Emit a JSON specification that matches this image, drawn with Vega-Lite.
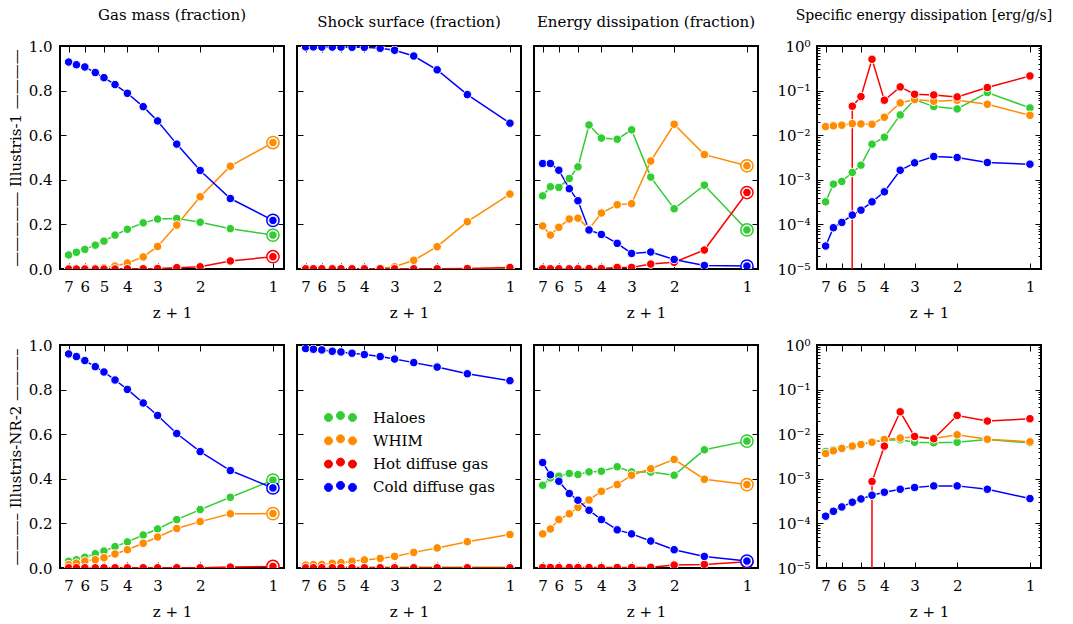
{
"$schema": "https://vega.github.io/schema/vega-lite/v6.json",
"padding": {"left": 7, "top": 7, "right": 0, "bottom": 0},
"config": {
 "font": "DejaVu Serif",
 "view": {"stroke": "black", "strokeWidth": 2},
 "axis": {"domain": false, "grid": false, "tickSize": -6, "tickColor": "black", "tickWidth": 1, "labelFont": "DejaVu Serif", "labelFontSize": 15, "labelColor": "black", "titleFont": "DejaVu Serif", "titleFontSize": 15, "titleFontWeight": "normal", "titleColor": "black", "labelFlush": false, "labelOverlap": false},
 "title": {"font": "DejaVu Serif", "fontSize": 15, "fontWeight": "normal", "color": "black", "offset": 16, "anchor": "middle", "frame": "group"}
},
"datasets": {
 "r1c1": [
  {"z":7,"c":"Haloes","v":0.063},{"z":6.5,"c":"Haloes","v":0.075},{"z":6,"c":"Haloes","v":0.088},{"z":5.43,"c":"Haloes","v":0.107},{"z":5,"c":"Haloes","v":0.125},{"z":4.5,"c":"Haloes","v":0.152},{"z":4,"c":"Haloes","v":0.178},{"z":3.44,"c":"Haloes","v":0.207},{"z":3,"c":"Haloes","v":0.224},{"z":2.5,"c":"Haloes","v":0.227},{"z":2,"c":"Haloes","v":0.210},{"z":1.5,"c":"Haloes","v":0.181},{"z":1,"c":"Haloes","v":0.152},
  {"z":7,"c":"WHIM","v":0.0},{"z":6.5,"c":"WHIM","v":0.0},{"z":6,"c":"WHIM","v":0.001},{"z":5.43,"c":"WHIM","v":0.003},{"z":5,"c":"WHIM","v":0.006},{"z":4.5,"c":"WHIM","v":0.013},{"z":4,"c":"WHIM","v":0.027},{"z":3.44,"c":"WHIM","v":0.054},{"z":3,"c":"WHIM","v":0.101},{"z":2.5,"c":"WHIM","v":0.197},{"z":2,"c":"WHIM","v":0.324},{"z":1.5,"c":"WHIM","v":0.461},{"z":1,"c":"WHIM","v":0.567},
  {"z":7,"c":"Hot diffuse gas","v":0.0},{"z":6.5,"c":"Hot diffuse gas","v":0.0},{"z":6,"c":"Hot diffuse gas","v":0.0},{"z":5.43,"c":"Hot diffuse gas","v":0.0},{"z":5,"c":"Hot diffuse gas","v":0.0},{"z":4.5,"c":"Hot diffuse gas","v":0.0},{"z":4,"c":"Hot diffuse gas","v":0.001},{"z":3.44,"c":"Hot diffuse gas","v":0.001},{"z":3,"c":"Hot diffuse gas","v":0.002},{"z":2.5,"c":"Hot diffuse gas","v":0.006},{"z":2,"c":"Hot diffuse gas","v":0.010},{"z":1.5,"c":"Hot diffuse gas","v":0.036},{"z":1,"c":"Hot diffuse gas","v":0.055},
  {"z":7,"c":"Cold diffuse gas","v":0.928},{"z":6.5,"c":"Cold diffuse gas","v":0.916},{"z":6,"c":"Cold diffuse gas","v":0.906},{"z":5.43,"c":"Cold diffuse gas","v":0.881},{"z":5,"c":"Cold diffuse gas","v":0.858},{"z":4.5,"c":"Cold diffuse gas","v":0.827},{"z":4,"c":"Cold diffuse gas","v":0.788},{"z":3.44,"c":"Cold diffuse gas","v":0.728},{"z":3,"c":"Cold diffuse gas","v":0.664},{"z":2.5,"c":"Cold diffuse gas","v":0.560},{"z":2,"c":"Cold diffuse gas","v":0.442},{"z":1.5,"c":"Cold diffuse gas","v":0.316},{"z":1,"c":"Cold diffuse gas","v":0.218}
 ],
 "r1c2": [
  {"z":7,"c":"Haloes","v":0.001},{"z":6.5,"c":"Haloes","v":0.001},{"z":6,"c":"Haloes","v":0.001},{"z":5.43,"c":"Haloes","v":0.001},{"z":5,"c":"Haloes","v":0.001},{"z":4.5,"c":"Haloes","v":0.001},{"z":4,"c":"Haloes","v":0.001},{"z":3.44,"c":"Haloes","v":0.001},{"z":3,"c":"Haloes","v":0.001},{"z":2.5,"c":"Haloes","v":0.001},{"z":2,"c":"Haloes","v":0.001},{"z":1.5,"c":"Haloes","v":0.001},{"z":1,"c":"Haloes","v":0.001},
  {"z":7,"c":"WHIM","v":0.0},{"z":6.5,"c":"WHIM","v":0.0},{"z":6,"c":"WHIM","v":0.0},{"z":5.43,"c":"WHIM","v":0.0},{"z":5,"c":"WHIM","v":0.0},{"z":4.5,"c":"WHIM","v":0.0},{"z":4,"c":"WHIM","v":0.0},{"z":3.44,"c":"WHIM","v":0.002},{"z":3,"c":"WHIM","v":0.010},{"z":2.5,"c":"WHIM","v":0.039},{"z":2,"c":"WHIM","v":0.100},{"z":1.5,"c":"WHIM","v":0.212},{"z":1,"c":"WHIM","v":0.336},
  {"z":7,"c":"Hot diffuse gas","v":0.001},{"z":6.5,"c":"Hot diffuse gas","v":0.001},{"z":6,"c":"Hot diffuse gas","v":0.001},{"z":5.43,"c":"Hot diffuse gas","v":0.001},{"z":5,"c":"Hot diffuse gas","v":0.001},{"z":4.5,"c":"Hot diffuse gas","v":0.001},{"z":4,"c":"Hot diffuse gas","v":0.001},{"z":3.44,"c":"Hot diffuse gas","v":0.001},{"z":3,"c":"Hot diffuse gas","v":0.001},{"z":2.5,"c":"Hot diffuse gas","v":0.001},{"z":2,"c":"Hot diffuse gas","v":0.001},{"z":1.5,"c":"Hot diffuse gas","v":0.002},{"z":1,"c":"Hot diffuse gas","v":0.007},
  {"z":7,"c":"Cold diffuse gas","v":0.996},{"z":6.5,"c":"Cold diffuse gas","v":0.996},{"z":6,"c":"Cold diffuse gas","v":0.995},{"z":5.43,"c":"Cold diffuse gas","v":0.995},{"z":5,"c":"Cold diffuse gas","v":0.995},{"z":4.5,"c":"Cold diffuse gas","v":0.994},{"z":4,"c":"Cold diffuse gas","v":0.994},{"z":3.44,"c":"Cold diffuse gas","v":0.990},{"z":3,"c":"Cold diffuse gas","v":0.981},{"z":2.5,"c":"Cold diffuse gas","v":0.955},{"z":2,"c":"Cold diffuse gas","v":0.893},{"z":1.5,"c":"Cold diffuse gas","v":0.782},{"z":1,"c":"Cold diffuse gas","v":0.654}
 ],
 "r1c3": [
  {"z":7,"c":"Haloes","v":0.328},{"z":6.5,"c":"Haloes","v":0.369},{"z":6,"c":"Haloes","v":0.366},{"z":5.43,"c":"Haloes","v":0.406},{"z":5,"c":"Haloes","v":0.458},{"z":4.5,"c":"Haloes","v":0.646},{"z":4,"c":"Haloes","v":0.587},{"z":3.44,"c":"Haloes","v":0.582},{"z":3,"c":"Haloes","v":0.624},{"z":2.5,"c":"Haloes","v":0.412},{"z":2,"c":"Haloes","v":0.270},{"z":1.5,"c":"Haloes","v":0.376},{"z":1,"c":"Haloes","v":0.175},
  {"z":7,"c":"WHIM","v":0.193},{"z":6.5,"c":"WHIM","v":0.152},{"z":6,"c":"WHIM","v":0.187},{"z":5.43,"c":"WHIM","v":0.224},{"z":5,"c":"WHIM","v":0.228},{"z":4.5,"c":"WHIM","v":0.180},{"z":4,"c":"WHIM","v":0.251},{"z":3.44,"c":"WHIM","v":0.288},{"z":3,"c":"WHIM","v":0.293},{"z":2.5,"c":"WHIM","v":0.484},{"z":2,"c":"WHIM","v":0.649},{"z":1.5,"c":"WHIM","v":0.513},{"z":1,"c":"WHIM","v":0.463},
  {"z":7,"c":"Hot diffuse gas","v":0.001},{"z":6.5,"c":"Hot diffuse gas","v":0.001},{"z":6,"c":"Hot diffuse gas","v":0.001},{"z":5.43,"c":"Hot diffuse gas","v":0.001},{"z":5,"c":"Hot diffuse gas","v":0.001},{"z":4.5,"c":"Hot diffuse gas","v":0.002},{"z":4,"c":"Hot diffuse gas","v":0.002},{"z":3.44,"c":"Hot diffuse gas","v":0.007},{"z":3,"c":"Hot diffuse gas","v":0.007},{"z":2.5,"c":"Hot diffuse gas","v":0.022},{"z":2,"c":"Hot diffuse gas","v":0.030},{"z":1.5,"c":"Hot diffuse gas","v":0.085},{"z":1,"c":"Hot diffuse gas","v":0.343},
  {"z":7,"c":"Cold diffuse gas","v":0.473},{"z":6.5,"c":"Cold diffuse gas","v":0.473},{"z":6,"c":"Cold diffuse gas","v":0.443},{"z":5.43,"c":"Cold diffuse gas","v":0.360},{"z":5,"c":"Cold diffuse gas","v":0.306},{"z":4.5,"c":"Cold diffuse gas","v":0.175},{"z":4,"c":"Cold diffuse gas","v":0.155},{"z":3.44,"c":"Cold diffuse gas","v":0.115},{"z":3,"c":"Cold diffuse gas","v":0.070},{"z":2.5,"c":"Cold diffuse gas","v":0.076},{"z":2,"c":"Cold diffuse gas","v":0.043},{"z":1.5,"c":"Cold diffuse gas","v":0.016},{"z":1,"c":"Cold diffuse gas","v":0.013}
 ],
 "r1c4": [
  {"z":7,"c":"Haloes","v":0.000321},{"z":6.5,"c":"Haloes","v":0.0008},{"z":6,"c":"Haloes","v":0.00092},{"z":5.43,"c":"Haloes","v":0.00146},{"z":5,"c":"Haloes","v":0.00213},{"z":4.5,"c":"Haloes","v":0.00629},{"z":4,"c":"Haloes","v":0.00902},{"z":3.44,"c":"Haloes","v":0.0285},{"z":3,"c":"Haloes","v":0.063},{"z":2.5,"c":"Haloes","v":0.0438},{"z":2,"c":"Haloes","v":0.0389},{"z":1.5,"c":"Haloes","v":0.0902},{"z":1,"c":"Haloes","v":0.0409},
  {"z":7,"c":"WHIM","v":0.0156},{"z":6.5,"c":"WHIM","v":0.0162},{"z":6,"c":"WHIM","v":0.0168},{"z":5.43,"c":"WHIM","v":0.0182},{"z":5,"c":"WHIM","v":0.0179},{"z":4.5,"c":"WHIM","v":0.0176},{"z":4,"c":"WHIM","v":0.0253},{"z":3.44,"c":"WHIM","v":0.053},{"z":3,"c":"WHIM","v":0.0629},{"z":2.5,"c":"WHIM","v":0.0577},{"z":2,"c":"WHIM","v":0.0608},{"z":1.5,"c":"WHIM","v":0.0494},{"z":1,"c":"WHIM","v":0.028},
  {"z":7,"c":"Hot diffuse gas","v":1e-300},{"z":6.5,"c":"Hot diffuse gas","v":1e-300},{"z":6,"c":"Hot diffuse gas","v":1e-300},{"z":5.43,"c":"Hot diffuse gas","v":0.0446},{"z":5,"c":"Hot diffuse gas","v":0.0734},{"z":4.5,"c":"Hot diffuse gas","v":0.503},{"z":4,"c":"Hot diffuse gas","v":0.0608},{"z":3.44,"c":"Hot diffuse gas","v":0.121},{"z":3,"c":"Hot diffuse gas","v":0.0828},{"z":2.5,"c":"Hot diffuse gas","v":0.080},{"z":2,"c":"Hot diffuse gas","v":0.0722},{"z":1.5,"c":"Hot diffuse gas","v":0.117},{"z":1,"c":"Hot diffuse gas","v":0.213},
  {"z":7,"c":"Cold diffuse gas","v":0.0000327},{"z":6.5,"c":"Cold diffuse gas","v":0.0000842},{"z":6,"c":"Cold diffuse gas","v":0.000111},{"z":5.43,"c":"Cold diffuse gas","v":0.000162},{"z":5,"c":"Cold diffuse gas","v":0.000209},{"z":4.5,"c":"Cold diffuse gas","v":0.000321},{"z":4,"c":"Cold diffuse gas","v":0.000538},{"z":3.44,"c":"Cold diffuse gas","v":0.00164},{"z":3,"c":"Cold diffuse gas","v":0.0024},{"z":2.5,"c":"Cold diffuse gas","v":0.00333},{"z":2,"c":"Cold diffuse gas","v":0.00316},{"z":1.5,"c":"Cold diffuse gas","v":0.00244},{"z":1,"c":"Cold diffuse gas","v":0.00224}
 ],
 "r2c1": [
  {"z":7,"c":"Haloes","v":0.030},{"z":6.5,"c":"Haloes","v":0.037},{"z":6,"c":"Haloes","v":0.048},{"z":5.43,"c":"Haloes","v":0.064},{"z":5,"c":"Haloes","v":0.076},{"z":4.5,"c":"Haloes","v":0.096},{"z":4,"c":"Haloes","v":0.117},{"z":3.44,"c":"Haloes","v":0.148},{"z":3,"c":"Haloes","v":0.175},{"z":2.5,"c":"Haloes","v":0.217},{"z":2,"c":"Haloes","v":0.262},{"z":1.5,"c":"Haloes","v":0.317},{"z":1,"c":"Haloes","v":0.394},
  {"z":7,"c":"WHIM","v":0.015},{"z":6.5,"c":"WHIM","v":0.022},{"z":6,"c":"WHIM","v":0.031},{"z":5.43,"c":"WHIM","v":0.037},{"z":5,"c":"WHIM","v":0.046},{"z":4.5,"c":"WHIM","v":0.063},{"z":4,"c":"WHIM","v":0.082},{"z":3.44,"c":"WHIM","v":0.111},{"z":3,"c":"WHIM","v":0.139},{"z":2.5,"c":"WHIM","v":0.177},{"z":2,"c":"WHIM","v":0.208},{"z":1.5,"c":"WHIM","v":0.243},{"z":1,"c":"WHIM","v":0.244},
  {"z":7,"c":"Hot diffuse gas","v":0.001},{"z":6.5,"c":"Hot diffuse gas","v":0.001},{"z":6,"c":"Hot diffuse gas","v":0.001},{"z":5.43,"c":"Hot diffuse gas","v":0.001},{"z":5,"c":"Hot diffuse gas","v":0.001},{"z":4.5,"c":"Hot diffuse gas","v":0.001},{"z":4,"c":"Hot diffuse gas","v":0.001},{"z":3.44,"c":"Hot diffuse gas","v":0.001},{"z":3,"c":"Hot diffuse gas","v":0.001},{"z":2.5,"c":"Hot diffuse gas","v":0.001},{"z":2,"c":"Hot diffuse gas","v":0.001},{"z":1.5,"c":"Hot diffuse gas","v":0.004},{"z":1,"c":"Hot diffuse gas","v":0.007},
  {"z":7,"c":"Cold diffuse gas","v":0.960},{"z":6.5,"c":"Cold diffuse gas","v":0.948},{"z":6,"c":"Cold diffuse gas","v":0.930},{"z":5.43,"c":"Cold diffuse gas","v":0.903},{"z":5,"c":"Cold diffuse gas","v":0.879},{"z":4.5,"c":"Cold diffuse gas","v":0.843},{"z":4,"c":"Cold diffuse gas","v":0.801},{"z":3.44,"c":"Cold diffuse gas","v":0.740},{"z":3,"c":"Cold diffuse gas","v":0.684},{"z":2.5,"c":"Cold diffuse gas","v":0.603},{"z":2,"c":"Cold diffuse gas","v":0.522},{"z":1.5,"c":"Cold diffuse gas","v":0.437},{"z":1,"c":"Cold diffuse gas","v":0.359}
 ],
 "r2c2": [
  {"z":7,"c":"Haloes","v":0.003},{"z":6.5,"c":"Haloes","v":0.003},{"z":6,"c":"Haloes","v":0.003},{"z":5.43,"c":"Haloes","v":0.003},{"z":5,"c":"Haloes","v":0.003},{"z":4.5,"c":"Haloes","v":0.003},{"z":4,"c":"Haloes","v":0.003},{"z":3.44,"c":"Haloes","v":0.003},{"z":3,"c":"Haloes","v":0.003},{"z":2.5,"c":"Haloes","v":0.003},{"z":2,"c":"Haloes","v":0.003},{"z":1.5,"c":"Haloes","v":0.003},{"z":1,"c":"Haloes","v":0.003},
  {"z":7,"c":"WHIM","v":0.013},{"z":6.5,"c":"WHIM","v":0.015},{"z":6,"c":"WHIM","v":0.016},{"z":5.43,"c":"WHIM","v":0.021},{"z":5,"c":"WHIM","v":0.024},{"z":4.5,"c":"WHIM","v":0.030},{"z":4,"c":"WHIM","v":0.036},{"z":3.44,"c":"WHIM","v":0.043},{"z":3,"c":"WHIM","v":0.052},{"z":2.5,"c":"WHIM","v":0.070},{"z":2,"c":"WHIM","v":0.090},{"z":1.5,"c":"WHIM","v":0.118},{"z":1,"c":"WHIM","v":0.150},
  {"z":7,"c":"Hot diffuse gas","v":0.001},{"z":6.5,"c":"Hot diffuse gas","v":0.001},{"z":6,"c":"Hot diffuse gas","v":0.001},{"z":5.43,"c":"Hot diffuse gas","v":0.001},{"z":5,"c":"Hot diffuse gas","v":0.001},{"z":4.5,"c":"Hot diffuse gas","v":0.001},{"z":4,"c":"Hot diffuse gas","v":0.001},{"z":3.44,"c":"Hot diffuse gas","v":0.001},{"z":3,"c":"Hot diffuse gas","v":0.001},{"z":2.5,"c":"Hot diffuse gas","v":0.001},{"z":2,"c":"Hot diffuse gas","v":0.001},{"z":1.5,"c":"Hot diffuse gas","v":0.001},{"z":1,"c":"Hot diffuse gas","v":0.001},
  {"z":7,"c":"Cold diffuse gas","v":0.984},{"z":6.5,"c":"Cold diffuse gas","v":0.981},{"z":6,"c":"Cold diffuse gas","v":0.978},{"z":5.43,"c":"Cold diffuse gas","v":0.972},{"z":5,"c":"Cold diffuse gas","v":0.969},{"z":4.5,"c":"Cold diffuse gas","v":0.963},{"z":4,"c":"Cold diffuse gas","v":0.957},{"z":3.44,"c":"Cold diffuse gas","v":0.948},{"z":3,"c":"Cold diffuse gas","v":0.937},{"z":2.5,"c":"Cold diffuse gas","v":0.921},{"z":2,"c":"Cold diffuse gas","v":0.901},{"z":1.5,"c":"Cold diffuse gas","v":0.871},{"z":1,"c":"Cold diffuse gas","v":0.840}
 ],
 "r2c3": [
  {"z":7,"c":"Haloes","v":0.371},{"z":6.5,"c":"Haloes","v":0.404},{"z":6,"c":"Haloes","v":0.412},{"z":5.43,"c":"Haloes","v":0.424},{"z":5,"c":"Haloes","v":0.419},{"z":4.5,"c":"Haloes","v":0.431},{"z":4,"c":"Haloes","v":0.434},{"z":3.44,"c":"Haloes","v":0.454},{"z":3,"c":"Haloes","v":0.431},{"z":2.5,"c":"Haloes","v":0.430},{"z":2,"c":"Haloes","v":0.416},{"z":1.5,"c":"Haloes","v":0.530},{"z":1,"c":"Haloes","v":0.569},
  {"z":7,"c":"WHIM","v":0.153},{"z":6.5,"c":"WHIM","v":0.175},{"z":6,"c":"WHIM","v":0.217},{"z":5.43,"c":"WHIM","v":0.243},{"z":5,"c":"WHIM","v":0.272},{"z":4.5,"c":"WHIM","v":0.305},{"z":4,"c":"WHIM","v":0.344},{"z":3.44,"c":"WHIM","v":0.374},{"z":3,"c":"WHIM","v":0.416},{"z":2.5,"c":"WHIM","v":0.445},{"z":2,"c":"WHIM","v":0.487},{"z":1.5,"c":"WHIM","v":0.398},{"z":1,"c":"WHIM","v":0.374},
  {"z":7,"c":"Hot diffuse gas","v":0.002},{"z":6.5,"c":"Hot diffuse gas","v":0.002},{"z":6,"c":"Hot diffuse gas","v":0.002},{"z":5.43,"c":"Hot diffuse gas","v":0.002},{"z":5,"c":"Hot diffuse gas","v":0.002},{"z":4.5,"c":"Hot diffuse gas","v":0.002},{"z":4,"c":"Hot diffuse gas","v":0.002},{"z":3.44,"c":"Hot diffuse gas","v":0.002},{"z":3,"c":"Hot diffuse gas","v":0.002},{"z":2.5,"c":"Hot diffuse gas","v":0.003},{"z":2,"c":"Hot diffuse gas","v":0.013},{"z":1.5,"c":"Hot diffuse gas","v":0.016},{"z":1,"c":"Hot diffuse gas","v":0.028},
  {"z":7,"c":"Cold diffuse gas","v":0.473},{"z":6.5,"c":"Cold diffuse gas","v":0.418},{"z":6,"c":"Cold diffuse gas","v":0.389},{"z":5.43,"c":"Cold diffuse gas","v":0.334},{"z":5,"c":"Cold diffuse gas","v":0.304},{"z":4.5,"c":"Cold diffuse gas","v":0.259},{"z":4,"c":"Cold diffuse gas","v":0.217},{"z":3.44,"c":"Cold diffuse gas","v":0.171},{"z":3,"c":"Cold diffuse gas","v":0.153},{"z":2.5,"c":"Cold diffuse gas","v":0.121},{"z":2,"c":"Cold diffuse gas","v":0.082},{"z":1.5,"c":"Cold diffuse gas","v":0.052},{"z":1,"c":"Cold diffuse gas","v":0.031}
 ],
 "r2c4": [
  {"z":7,"c":"Haloes","v":0.0041},{"z":6.5,"c":"Haloes","v":0.0045},{"z":6,"c":"Haloes","v":0.005},{"z":5.43,"c":"Haloes","v":0.0055},{"z":5,"c":"Haloes","v":0.006},{"z":4.5,"c":"Haloes","v":0.0066},{"z":4,"c":"Haloes","v":0.0074},{"z":3.44,"c":"Haloes","v":0.0075},{"z":3,"c":"Haloes","v":0.0066},{"z":2.5,"c":"Haloes","v":0.0064},{"z":2,"c":"Haloes","v":0.0066},{"z":1.5,"c":"Haloes","v":0.0076},{"z":1,"c":"Haloes","v":0.0064},
  {"z":7,"c":"WHIM","v":0.00369},{"z":6.5,"c":"WHIM","v":0.00424},{"z":6,"c":"WHIM","v":0.00478},{"z":5.43,"c":"WHIM","v":0.0054},{"z":5,"c":"WHIM","v":0.00588},{"z":4.5,"c":"WHIM","v":0.00663},{"z":4,"c":"WHIM","v":0.0076},{"z":3.44,"c":"WHIM","v":0.0082},{"z":3,"c":"WHIM","v":0.0087},{"z":2.5,"c":"WHIM","v":0.008},{"z":2,"c":"WHIM","v":0.0097},{"z":1.5,"c":"WHIM","v":0.0077},{"z":1,"c":"WHIM","v":0.00675},
  {"z":7,"c":"Hot diffuse gas","v":1e-300},{"z":6.5,"c":"Hot diffuse gas","v":1e-300},{"z":6,"c":"Hot diffuse gas","v":1e-300},{"z":5.43,"c":"Hot diffuse gas","v":1e-300},{"z":5,"c":"Hot diffuse gas","v":1e-300},{"z":4.5,"c":"Hot diffuse gas","v":0.000869},{"z":4,"c":"Hot diffuse gas","v":0.0054},{"z":3.44,"c":"Hot diffuse gas","v":0.0318},{"z":3,"c":"Hot diffuse gas","v":0.0089},{"z":2.5,"c":"Hot diffuse gas","v":0.0079},{"z":2,"c":"Hot diffuse gas","v":0.0263},{"z":1.5,"c":"Hot diffuse gas","v":0.0197},{"z":1,"c":"Hot diffuse gas","v":0.0222},
  {"z":7,"c":"Cold diffuse gas","v":0.000145},{"z":6.5,"c":"Cold diffuse gas","v":0.000187},{"z":6,"c":"Cold diffuse gas","v":0.000234},{"z":5.43,"c":"Cold diffuse gas","v":0.000299},{"z":5,"c":"Cold diffuse gas","v":0.000354},{"z":4.5,"c":"Cold diffuse gas","v":0.000428},{"z":4,"c":"Cold diffuse gas","v":0.0005},{"z":3.44,"c":"Cold diffuse gas","v":0.000583},{"z":3,"c":"Cold diffuse gas","v":0.000637},{"z":2.5,"c":"Cold diffuse gas","v":0.000694},{"z":2,"c":"Cold diffuse gas","v":0.000694},{"z":1.5,"c":"Cold diffuse gas","v":0.000583},{"z":1,"c":"Cold diffuse gas","v":0.00036}
 ]
},
"columns": 4,
"align": "each",
"spacing": {"row": 16, "column": 9},
"resolve": {"scale": {"color": "independent"}, "legend": {"color": "independent"}},
"concat": [
 {"width": 224, "height": 223, "title": "Gas mass (fraction)", "data": {"name": "r1c1"},
  "layer": [
   {"mark": {"type": "line", "clip": true, "strokeWidth": 1.5}, "encoding": {
     "x": {"field": "z", "type": "quantitative", "scale": {"type": "log", "domain": [0.9, 7.6], "reverse": true, "nice": false}, "axis": {"values": [1,2,3,4,5,6,7], "format": "d", "title": "z + 1", "labelPadding": 16, "titlePadding": 11}},
     "y": {"field": "v", "type": "quantitative", "scale": {"domain": [0, 1], "nice": false, "zero": false}, "axis": {"values": [0,0.2,0.4,0.6,0.8,1], "format": ".1f", "title": "————— Illustris-1 ————", "labelPadding": 14, "titlePadding": 5}},
     "color": {"field": "c", "type": "nominal", "scale": {"domain": ["Haloes","WHIM","Hot diffuse gas","Cold diffuse gas"], "range": ["#32cd32","#ff8c00","#ff0000","#0000ff"]}, "legend": null}}},
   {"transform": [{"filter": "datum.z == 1"}], "mark": {"type": "point", "filled": false, "fill": "white", "clip": true, "size": 150, "strokeWidth": 1.5, "opacity": 1}, "encoding": {
     "x": {"field": "z", "type": "quantitative", "axis": null}, "y": {"field": "v", "type": "quantitative", "axis": null},
     "color": {"field": "c", "type": "nominal", "legend": null}}},
   {"mark": {"type": "circle", "clip": true, "size": 72, "stroke": "white", "strokeWidth": 1, "opacity": 1}, "encoding": {
     "x": {"field": "z", "type": "quantitative", "axis": null}, "y": {"field": "v", "type": "quantitative", "axis": null},
     "color": {"field": "c", "type": "nominal", "legend": null}}},
   {"mark": {"type": "point", "opacity": 0, "clip": true}, "encoding": {
     "x": {"field": "z", "type": "quantitative", "axis": {"orient": "top", "values": [1,2,3,4,5,6,7], "labels": false, "title": null}},
     "y": {"field": "v", "type": "quantitative", "axis": {"orient": "right", "values": [0,0.2,0.4,0.6,0.8,1], "labels": false, "title": null}}}}
  ],
  "resolve": {"axis": {"x": "independent", "y": "independent"}}},
 {"width": 224, "height": 223, "title": "Shock surface (fraction)", "data": {"name": "r1c2"},
  "layer": [
   {"mark": {"type": "line", "clip": true, "strokeWidth": 1.5}, "encoding": {
     "x": {"field": "z", "type": "quantitative", "scale": {"type": "log", "domain": [0.9, 7.6], "reverse": true, "nice": false}, "axis": {"values": [1,2,3,4,5,6,7], "format": "d", "title": "z + 1", "labelPadding": 16, "titlePadding": 11}},
     "y": {"field": "v", "type": "quantitative", "scale": {"domain": [0, 1], "nice": false, "zero": false}, "axis": {"values": [0,0.2,0.4,0.6,0.8,1], "labels": false, "title": null}},
     "color": {"field": "c", "type": "nominal", "scale": {"domain": ["Haloes","WHIM","Hot diffuse gas","Cold diffuse gas"], "range": ["#32cd32","#ff8c00","#ff0000","#0000ff"]}, "legend": null}}},
   {"mark": {"type": "circle", "clip": true, "size": 72, "stroke": "white", "strokeWidth": 1, "opacity": 1}, "encoding": {
     "x": {"field": "z", "type": "quantitative", "axis": null}, "y": {"field": "v", "type": "quantitative", "axis": null},
     "color": {"field": "c", "type": "nominal", "legend": null}}},
   {"mark": {"type": "point", "opacity": 0, "clip": true}, "encoding": {
     "x": {"field": "z", "type": "quantitative", "axis": {"orient": "top", "values": [1,2,3,4,5,6,7], "labels": false, "title": null}},
     "y": {"field": "v", "type": "quantitative", "axis": {"orient": "right", "values": [0,0.2,0.4,0.6,0.8,1], "labels": false, "title": null}}}}
  ],
  "resolve": {"axis": {"x": "independent", "y": "independent"}}},
 {"width": 224, "height": 223, "title": "Energy dissipation (fraction)", "data": {"name": "r1c3"},
  "layer": [
   {"mark": {"type": "line", "clip": true, "strokeWidth": 1.5}, "encoding": {
     "x": {"field": "z", "type": "quantitative", "scale": {"type": "log", "domain": [0.9, 7.6], "reverse": true, "nice": false}, "axis": {"values": [1,2,3,4,5,6,7], "format": "d", "title": "z + 1", "labelPadding": 16, "titlePadding": 11}},
     "y": {"field": "v", "type": "quantitative", "scale": {"domain": [0, 1], "nice": false, "zero": false}, "axis": {"values": [0,0.2,0.4,0.6,0.8,1], "labels": false, "title": null}},
     "color": {"field": "c", "type": "nominal", "scale": {"domain": ["Haloes","WHIM","Hot diffuse gas","Cold diffuse gas"], "range": ["#32cd32","#ff8c00","#ff0000","#0000ff"]}, "legend": null}}},
   {"transform": [{"filter": "datum.z == 1"}], "mark": {"type": "point", "filled": false, "fill": "white", "clip": true, "size": 150, "strokeWidth": 1.5, "opacity": 1}, "encoding": {
     "x": {"field": "z", "type": "quantitative", "axis": null}, "y": {"field": "v", "type": "quantitative", "axis": null},
     "color": {"field": "c", "type": "nominal", "legend": null}}},
   {"mark": {"type": "circle", "clip": true, "size": 72, "stroke": "white", "strokeWidth": 1, "opacity": 1}, "encoding": {
     "x": {"field": "z", "type": "quantitative", "axis": null}, "y": {"field": "v", "type": "quantitative", "axis": null},
     "color": {"field": "c", "type": "nominal", "legend": null}}},
   {"mark": {"type": "point", "opacity": 0, "clip": true}, "encoding": {
     "x": {"field": "z", "type": "quantitative", "axis": {"orient": "top", "values": [1,2,3,4,5,6,7], "labels": false, "title": null}},
     "y": {"field": "v", "type": "quantitative", "axis": {"orient": "right", "values": [0,0.2,0.4,0.6,0.8,1], "labels": false, "title": null}}}}
  ],
  "resolve": {"axis": {"x": "independent", "y": "independent"}}},
 {"width": 224, "height": 223, "title": {"text": "Specific energy dissipation [erg/g/s]", "dx": -5, "fontSize": 14}, "data": {"name": "r1c4"},
  "layer": [
   {"mark": {"type": "line", "clip": true, "strokeWidth": 1.5}, "encoding": {
     "x": {"field": "z", "type": "quantitative", "scale": {"type": "log", "domain": [0.9, 7.6], "reverse": true, "nice": false}, "axis": {"values": [1,2,3,4,5,6,7], "format": "d", "title": "z + 1", "labelPadding": 16, "titlePadding": 11}},
     "y": {"field": "v", "type": "quantitative", "scale": {"type": "log", "domain": [0.00001, 1], "nice": false}, "axis": {"values": [0.00001,0.0001,0.001,0.01,0.1,1], "labelExpr": "'10' + (datum.value >= 0.5 ? '⁰' : '⁻' + ['','¹','²','³','⁴','⁵'][round(-log(datum.value)/LN10)])", "title": null, "labelPadding": 13, "minExtent": 47, "maxExtent": 47}},
     "color": {"field": "c", "type": "nominal", "scale": {"domain": ["Haloes","WHIM","Hot diffuse gas","Cold diffuse gas"], "range": ["#32cd32","#ff8c00","#ff0000","#0000ff"]}, "legend": null}}},
   {"mark": {"type": "circle", "clip": true, "size": 72, "stroke": "white", "strokeWidth": 1, "opacity": 1}, "encoding": {
     "x": {"field": "z", "type": "quantitative", "axis": null}, "y": {"field": "v", "type": "quantitative", "axis": null},
     "color": {"field": "c", "type": "nominal", "legend": null}}},
   {"mark": {"type": "point", "opacity": 0, "clip": true}, "encoding": {
     "x": {"field": "z", "type": "quantitative", "axis": {"orient": "top", "values": [1,2,3,4,5,6,7], "labels": false, "title": null}},
     "y": {"field": "v", "type": "quantitative", "axis": {"orient": "right", "values": [0.00001,0.0001,0.001,0.01,0.1,1], "labels": false, "title": null}}}},
   {"mark": {"type": "point", "opacity": 0, "clip": true}, "encoding": {
     "x": {"field": "z", "type": "quantitative", "axis": null},
     "y": {"field": "v", "type": "quantitative", "axis": {"orient": "left", "values": [0.00002,0.00003,0.00004,0.00005,0.00006,0.00007,0.00008,0.00009,0.0002,0.0003,0.0004,0.0005,0.0006,0.0007,0.0008,0.0009,0.002,0.003,0.004,0.005,0.006,0.007,0.008,0.009,0.02,0.03,0.04,0.05,0.06,0.07,0.08,0.09,0.2,0.3,0.4,0.5,0.6,0.7,0.8,0.9], "labels": false, "title": null, "tickSize": -3}}}},
   {"mark": {"type": "point", "opacity": 0, "clip": true}, "encoding": {
     "x": {"field": "z", "type": "quantitative", "axis": null},
     "y": {"field": "v", "type": "quantitative", "axis": {"orient": "right", "values": [0.00002,0.00003,0.00004,0.00005,0.00006,0.00007,0.00008,0.00009,0.0002,0.0003,0.0004,0.0005,0.0006,0.0007,0.0008,0.0009,0.002,0.003,0.004,0.005,0.006,0.007,0.008,0.009,0.02,0.03,0.04,0.05,0.06,0.07,0.08,0.09,0.2,0.3,0.4,0.5,0.6,0.7,0.8,0.9], "labels": false, "title": null, "tickSize": -3}}}}
  ],
  "resolve": {"axis": {"x": "independent", "y": "independent"}}},
 {"width": 224, "height": 223, "data": {"name": "r2c1"},
  "layer": [
   {"mark": {"type": "line", "clip": true, "strokeWidth": 1.5}, "encoding": {
     "x": {"field": "z", "type": "quantitative", "scale": {"type": "log", "domain": [0.9, 7.6], "reverse": true, "nice": false}, "axis": {"values": [1,2,3,4,5,6,7], "format": "d", "title": "z + 1", "labelPadding": 16, "titlePadding": 11}},
     "y": {"field": "v", "type": "quantitative", "scale": {"domain": [0, 1], "nice": false, "zero": false}, "axis": {"values": [0,0.2,0.4,0.6,0.8,1], "format": ".1f", "title": "———– Illustris-NR-2 ———–", "labelPadding": 14, "titlePadding": 5}},
     "color": {"field": "c", "type": "nominal", "scale": {"domain": ["Haloes","WHIM","Hot diffuse gas","Cold diffuse gas"], "range": ["#32cd32","#ff8c00","#ff0000","#0000ff"]}, "legend": null}}},
   {"transform": [{"filter": "datum.z == 1"}], "mark": {"type": "point", "filled": false, "fill": "white", "clip": true, "size": 150, "strokeWidth": 1.5, "opacity": 1}, "encoding": {
     "x": {"field": "z", "type": "quantitative", "axis": null}, "y": {"field": "v", "type": "quantitative", "axis": null},
     "color": {"field": "c", "type": "nominal", "legend": null}}},
   {"mark": {"type": "circle", "clip": true, "size": 72, "stroke": "white", "strokeWidth": 1, "opacity": 1}, "encoding": {
     "x": {"field": "z", "type": "quantitative", "axis": null}, "y": {"field": "v", "type": "quantitative", "axis": null},
     "color": {"field": "c", "type": "nominal", "legend": null}}},
   {"mark": {"type": "point", "opacity": 0, "clip": true}, "encoding": {
     "x": {"field": "z", "type": "quantitative", "axis": {"orient": "top", "values": [1,2,3,4,5,6,7], "labels": false, "title": null}},
     "y": {"field": "v", "type": "quantitative", "axis": {"orient": "right", "values": [0,0.2,0.4,0.6,0.8,1], "labels": false, "title": null}}}}
  ],
  "resolve": {"axis": {"x": "independent", "y": "independent"}}},
 {"width": 224, "height": 223, "data": {"name": "r2c2"},
  "layer": [
   {"mark": {"type": "line", "clip": true, "strokeWidth": 1.5}, "encoding": {
     "x": {"field": "z", "type": "quantitative", "scale": {"type": "log", "domain": [0.9, 7.6], "reverse": true, "nice": false}, "axis": {"values": [1,2,3,4,5,6,7], "format": "d", "title": "z + 1", "labelPadding": 16, "titlePadding": 11}},
     "y": {"field": "v", "type": "quantitative", "scale": {"domain": [0, 1], "nice": false, "zero": false}, "axis": {"values": [0,0.2,0.4,0.6,0.8,1], "labels": false, "title": null}},
     "color": {"field": "c", "type": "nominal", "scale": {"domain": ["Haloes","WHIM","Hot diffuse gas","Cold diffuse gas"], "range": ["#32cd32","#ff8c00","#ff0000","#0000ff"]}, "legend": {"orient": "none", "legendX": 36, "legendY": 65, "title": null, "padding": 0, "symbolType": "M-4,0A1,1,0,1,0,-2,0A1,1,0,1,0,-4,0ZM-1,-0.5A1,1,0,1,0,1,-0.5A1,1,0,1,0,-1,-0.5ZM2,0A1,1,0,1,0,4,0A1,1,0,1,0,2,0Z", "symbolSize": 64, "symbolStrokeColor": "white", "symbolStrokeWidth": 1, "symbolOpacity": 1, "labelFont": "DejaVu Serif", "labelFontSize": 15, "labelColor": "black", "labelOffset": 25, "rowPadding": 6.3}}}},
   {"mark": {"type": "circle", "clip": true, "size": 72, "stroke": "white", "strokeWidth": 1, "opacity": 1}, "encoding": {
     "x": {"field": "z", "type": "quantitative", "axis": null}, "y": {"field": "v", "type": "quantitative", "axis": null},
     "color": {"field": "c", "type": "nominal", "legend": {"orient": "none", "legendX": 36, "legendY": 65, "title": null, "padding": 0, "symbolType": "M-4,0A1,1,0,1,0,-2,0A1,1,0,1,0,-4,0ZM-1,-0.5A1,1,0,1,0,1,-0.5A1,1,0,1,0,-1,-0.5ZM2,0A1,1,0,1,0,4,0A1,1,0,1,0,2,0Z", "symbolSize": 64, "symbolStrokeColor": "white", "symbolStrokeWidth": 1, "symbolOpacity": 1, "labelFont": "DejaVu Serif", "labelFontSize": 15, "labelColor": "black", "labelOffset": 25, "rowPadding": 6.3}}}},
   {"mark": {"type": "point", "opacity": 0, "clip": true}, "encoding": {
     "x": {"field": "z", "type": "quantitative", "axis": {"orient": "top", "values": [1,2,3,4,5,6,7], "labels": false, "title": null}},
     "y": {"field": "v", "type": "quantitative", "axis": {"orient": "right", "values": [0,0.2,0.4,0.6,0.8,1], "labels": false, "title": null}}}}
  ],
  "resolve": {"axis": {"x": "independent", "y": "independent"}}},
 {"width": 224, "height": 223, "data": {"name": "r2c3"},
  "layer": [
   {"mark": {"type": "line", "clip": true, "strokeWidth": 1.5}, "encoding": {
     "x": {"field": "z", "type": "quantitative", "scale": {"type": "log", "domain": [0.9, 7.6], "reverse": true, "nice": false}, "axis": {"values": [1,2,3,4,5,6,7], "format": "d", "title": "z + 1", "labelPadding": 16, "titlePadding": 11}},
     "y": {"field": "v", "type": "quantitative", "scale": {"domain": [0, 1], "nice": false, "zero": false}, "axis": {"values": [0,0.2,0.4,0.6,0.8,1], "labels": false, "title": null}},
     "color": {"field": "c", "type": "nominal", "scale": {"domain": ["Haloes","WHIM","Hot diffuse gas","Cold diffuse gas"], "range": ["#32cd32","#ff8c00","#ff0000","#0000ff"]}, "legend": null}}},
   {"transform": [{"filter": "datum.z == 1"}], "mark": {"type": "point", "filled": false, "fill": "white", "clip": true, "size": 150, "strokeWidth": 1.5, "opacity": 1}, "encoding": {
     "x": {"field": "z", "type": "quantitative", "axis": null}, "y": {"field": "v", "type": "quantitative", "axis": null},
     "color": {"field": "c", "type": "nominal", "legend": null}}},
   {"mark": {"type": "circle", "clip": true, "size": 72, "stroke": "white", "strokeWidth": 1, "opacity": 1}, "encoding": {
     "x": {"field": "z", "type": "quantitative", "axis": null}, "y": {"field": "v", "type": "quantitative", "axis": null},
     "color": {"field": "c", "type": "nominal", "legend": null}}},
   {"mark": {"type": "point", "opacity": 0, "clip": true}, "encoding": {
     "x": {"field": "z", "type": "quantitative", "axis": {"orient": "top", "values": [1,2,3,4,5,6,7], "labels": false, "title": null}},
     "y": {"field": "v", "type": "quantitative", "axis": {"orient": "right", "values": [0,0.2,0.4,0.6,0.8,1], "labels": false, "title": null}}}}
  ],
  "resolve": {"axis": {"x": "independent", "y": "independent"}}},
 {"width": 224, "height": 223, "data": {"name": "r2c4"},
  "layer": [
   {"mark": {"type": "line", "clip": true, "strokeWidth": 1.5}, "encoding": {
     "x": {"field": "z", "type": "quantitative", "scale": {"type": "log", "domain": [0.9, 7.6], "reverse": true, "nice": false}, "axis": {"values": [1,2,3,4,5,6,7], "format": "d", "title": "z + 1", "labelPadding": 16, "titlePadding": 11}},
     "y": {"field": "v", "type": "quantitative", "scale": {"type": "log", "domain": [0.00001, 1], "nice": false}, "axis": {"values": [0.00001,0.0001,0.001,0.01,0.1,1], "labelExpr": "'10' + (datum.value >= 0.5 ? '⁰' : '⁻' + ['','¹','²','³','⁴','⁵'][round(-log(datum.value)/LN10)])", "title": null, "labelPadding": 13, "minExtent": 47, "maxExtent": 47}},
     "color": {"field": "c", "type": "nominal", "scale": {"domain": ["Haloes","WHIM","Hot diffuse gas","Cold diffuse gas"], "range": ["#32cd32","#ff8c00","#ff0000","#0000ff"]}, "legend": null}}},
   {"mark": {"type": "circle", "clip": true, "size": 72, "stroke": "white", "strokeWidth": 1, "opacity": 1}, "encoding": {
     "x": {"field": "z", "type": "quantitative", "axis": null}, "y": {"field": "v", "type": "quantitative", "axis": null},
     "color": {"field": "c", "type": "nominal", "legend": null}}},
   {"mark": {"type": "point", "opacity": 0, "clip": true}, "encoding": {
     "x": {"field": "z", "type": "quantitative", "axis": {"orient": "top", "values": [1,2,3,4,5,6,7], "labels": false, "title": null}},
     "y": {"field": "v", "type": "quantitative", "axis": {"orient": "right", "values": [0.00001,0.0001,0.001,0.01,0.1,1], "labels": false, "title": null}}}},
   {"mark": {"type": "point", "opacity": 0, "clip": true}, "encoding": {
     "x": {"field": "z", "type": "quantitative", "axis": null},
     "y": {"field": "v", "type": "quantitative", "axis": {"orient": "left", "values": [0.00002,0.00003,0.00004,0.00005,0.00006,0.00007,0.00008,0.00009,0.0002,0.0003,0.0004,0.0005,0.0006,0.0007,0.0008,0.0009,0.002,0.003,0.004,0.005,0.006,0.007,0.008,0.009,0.02,0.03,0.04,0.05,0.06,0.07,0.08,0.09,0.2,0.3,0.4,0.5,0.6,0.7,0.8,0.9], "labels": false, "title": null, "tickSize": -3}}}},
   {"mark": {"type": "point", "opacity": 0, "clip": true}, "encoding": {
     "x": {"field": "z", "type": "quantitative", "axis": null},
     "y": {"field": "v", "type": "quantitative", "axis": {"orient": "right", "values": [0.00002,0.00003,0.00004,0.00005,0.00006,0.00007,0.00008,0.00009,0.0002,0.0003,0.0004,0.0005,0.0006,0.0007,0.0008,0.0009,0.002,0.003,0.004,0.005,0.006,0.007,0.008,0.009,0.02,0.03,0.04,0.05,0.06,0.07,0.08,0.09,0.2,0.3,0.4,0.5,0.6,0.7,0.8,0.9], "labels": false, "title": null, "tickSize": -3}}}}
  ],
  "resolve": {"axis": {"x": "independent", "y": "independent"}}}
]
}
